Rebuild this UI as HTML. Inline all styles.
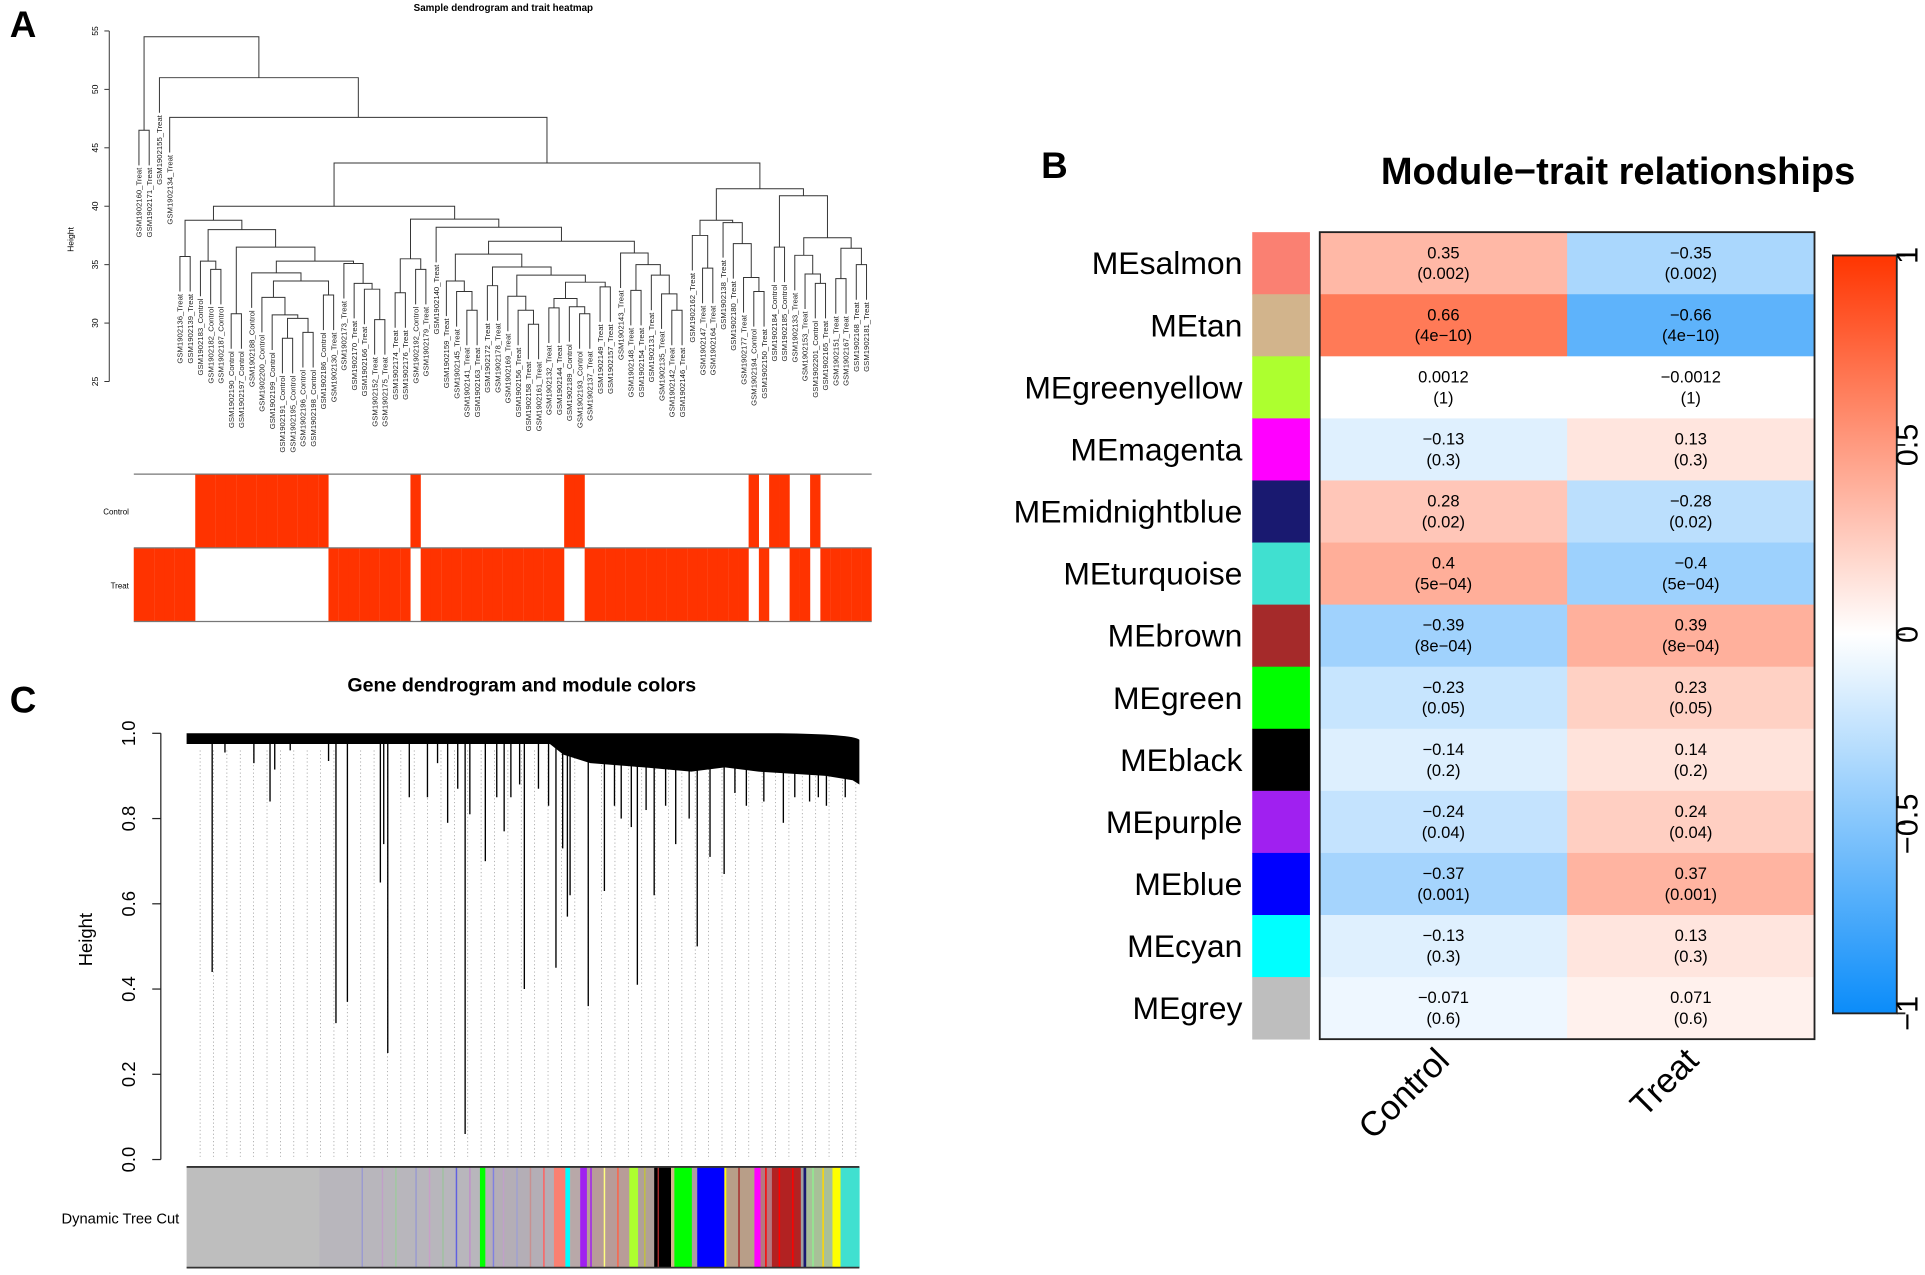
<!DOCTYPE html>
<html><head><meta charset="utf-8"><title>WGCNA figure</title>
<style>html,body{margin:0;padding:0;background:#fff;}svg{display:block;}text{font-family:"Liberation Sans",Arial,sans-serif;}</style>
</head><body>
<svg id="fig" xmlns="http://www.w3.org/2000/svg" width="1925" height="1275" viewBox="0 0 1568 1038" preserveAspectRatio="none">
<rect x="0" y="0" width="1568" height="1038" fill="#fff"/>
<text x="8" y="30" font-size="30" font-weight="bold">A</text>
<text x="410" y="9" font-size="8" font-weight="bold" text-anchor="middle">Sample dendrogram and trait heatmap</text>
<g id="panelA"></g>
<text x="848" y="145" font-size="30" font-weight="bold">B</text>
<text x="1318" y="150" font-size="31" font-weight="bold" text-anchor="middle">Module−trait relationships</text>
<g id="panelB"></g>
<text x="8" y="580" font-size="30" font-weight="bold">C</text>
<text x="425" y="563" font-size="16" font-weight="bold" text-anchor="middle">Gene dendrogram and module colors</text>
<g id="panelC"></g>
</svg>
<script>
// ---------- Panel B data ----------
const modules = ["MEsalmon","MEtan","MEgreenyellow","MEmagenta","MEmidnightblue","MEturquoise","MEbrown","MEgreen","MEblack","MEpurple","MEblue","MEcyan","MEgrey"];
const moduleColors = ["#FA8072","#D2B48C","#ADFF2F","#FF00FF","#191970","#40E0D0","#A52A2A","#00FF00","#000000","#A020F0","#0000FF","#00FFFF","#BEBEBE"];
const traits = ["Control","Treat"];
const controlCor = [0.35,0.66,0.0012,-0.13,0.28,0.4,-0.39,-0.23,-0.14,-0.24,-0.37,-0.13,-0.071];
const treatCor = [-0.35,-0.66,-0.0012,0.13,-0.28,-0.4,0.39,0.23,0.14,0.24,0.37,0.13,0.071];
const pValues = ["0.002","4e-10","1","0.3","0.02","5e-04","8e-04","0.05","0.2","0.04","0.001","0.3","0.6"];
const colorbarTicks = [1,0.5,0,-0.5,-1];
const colorbarTickLabels = ["1","0.5","0","−0.5","−1"];

// ---------- Panel A data ----------
const controlSamples = [183,182,187,190,197,188,200,199,191,195,196,198,186,192,189,193,194,184,185,201];
const heightTicksA = [25,30,35,40,45,50,55];
function N(h,a,b){return {h:h,a:a,b:b};}
const sampleTree =
 N(54.5, N(46.5,160,171), N(51,155, N(47.6,134, N(43.7,
  N(40,
   N(38.8, N(35.7,136,139), N(38, N(35.3,183,N(34.6,182,187)), N(36.5, N(30.8,190,197), N(35.3, N(34.3,188, N(33.6, N(32.2,200, N(30.7,199, N(30.4, N(28.7,191,195), N(29.2,196,198)))), N(32.4,186,130))), N(35.1,173, N(33.4,170, N(32.9,166, N(30.3,152,175)))))))),
   N(38.9, N(35.5, N(32.6,174,176), N(34.6,192,179)),
     N(38.2,140, N(37, N(35.9, N(33.6,159, N(32.7,145, N(31.1,141,163))), N(34.8, N(33.2,172,178), N(34.1, N(32.3,169, N(31.1,156, N(29.9,158,161))), N(33.5, N(32.1, N(31.3,132,144), N(31.4,189, N(30.8,193,137))), N(33.1,149,157))))),
       N(36,143, N(35, N(32.8,148,154), N(34.1,131, N(32.5,135, N(31.1,142,146)))))))))
  ,
  N(41.5, N(38.8, N(37.5,162, N(34.7,147,164)), N(38.6,138, N(36.8,180, N(33.9,177, N(32.7,194,150))))),
   N(40.9, N(36.5,184,185), N(37.3, N(35.8,133, N(34.2,153, N(33.4,201,165))), N(36.4, N(33.8,151,167), N(35,168,181)))))
 ))));

// ---------- Panel C data ----------
const heightTicksC = [0,0.2,0.4,0.6,0.8,1.0];
const dropPos = [.038,.057,.10,.124,.131,.154,.211,.222,.239,.288,.293,.299,.331,.358,.373,.388,.403,.414,.421,.444,.461,.472,.482,.495,.502,.523,.538,.549,.559,.566,.570,.597,.621,.636,.646,.661,.670,.683,.695,.712,.727,.747,.759,.778,.799,.815,.832,.858,.887,.904,.926,.939,.951,.979];
const dropHeight = [.44,.955,.93,.84,.915,.96,.935,.32,.37,.65,.74,.25,.85,.85,.93,.79,.87,.06,.81,.70,.85,.77,.85,.88,.40,.87,.83,.45,.73,.57,.62,.36,.63,.83,.80,.78,.41,.82,.62,.83,.74,.80,.50,.71,.67,.86,.83,.84,.79,.85,.84,.85,.83,.85];
const fringePos = [0,.54,.56,.60,.68,.75,.80,.85,.90,.95,.99,1];
const fringeHeight = [.975,.975,.95,.93,.92,.91,.92,.91,.905,.90,.89,.88];
const segStart = [0,.197,.436,.444,.546,.563,.570,.585,.595,.658,.671,.695,.72,.725,.751,.759,.799,.844,.853,.870,.913,.917,.921,.960,.972];
const segEnd   = [.197,.436,.444,.546,.563,.570,.585,.595,.658,.671,.695,.72,.725,.751,.759,.799,.844,.853,.870,.913,.917,.921,.960,.972,1];
const segColor = ["#BEBEBE","#B8B6BC","#00FF00","#B4AEB6","#FA8072","#00FFFF","#B8A8A8","#A020F0","#B89C98","#ADFF2F","#B0A098","#000000","#D2B48C","#00FF00","#B09CA0","#0000FF","#B89E88","#FF00FF","#B47880","#B22222","#A0A0A0","#191970","#A8C098","#FFFF00","#40E0D0"];
const stripePos = [.26,.29,.31,.34,.36,.38,.40,.42,.455,.47,.49,.51,.53,.60,.62,.64,.68,.70,.80,.82,.86,.88,.90,.93,.945];
const stripeColor = ["#9b9bd0","#c0a0c8","#a0c8a0","#9b9bd0","#c8a0c8","#a0c0a0","#6060e0","#c090c8","#8080e0","#c0a0c8","#a0a0d0","#c89090","#FF6060","#A020F0","#FFFF80","#FF6347","#c0c040","#A52A2A","#FFFF00","#A52A2A","#FF0000","#FF0000","#FF0000","#90EE90","#FFD700"];

const NS="http://www.w3.org/2000/svg";
function el(tag, attrs, parent){const e=document.createElementNS(NS,tag);for(const k in attrs)e.setAttribute(k,attrs[k]);parent.appendChild(e);return e;}

// ================= Panel A =================
(function(){
 const g=document.getElementById('panelA');
 const yA=h=>25.2+(55-h)*9.513;
 const hx0=109, hx1=710;
 // leaf order
 const leaves=[];(function walk(n){if(typeof n==='number'){leaves.push(n);return;}walk(n.a);walk(n.b);})(sampleTree);
 const w=(hx1-hx0)/leaves.length;
 const leafX=i=>hx0+(i+0.5)*w;
 let idx=0;
 const hang=3;
 function layout(n,parentH){
  if(typeof n==='number'){const i=idx++;return {x:leafX(i),top:parentH-hang,id:n};}
  const A=layout(n.a,n.h),B=layout(n.b,n.h);
  const x=(A.x+B.x)/2;
  const ln=el('path',{d:`M${A.x},${yA(A.top)}V${yA(n.h)}H${B.x}V${yA(B.top)}`,fill:'none',stroke:'#333','stroke-width':0.8},g);
  
  
  return {x:x,top:n.h};
 }
 const leafInfo=[];
 (function collect(n,parentH){
  if(typeof n==='number'){leafInfo.push({id:n,top:parentH-hang});return;}
  collect(n.a,n.h);collect(n.b,n.h);
 })(sampleTree,0);
 layout(sampleTree,56);
 leafInfo.forEach((L,i)=>{
  const isC=controlSamples.includes(L.id);
  const x=leafX(i), y=yA(L.top)+2;
  const t=el('text',{x:0,y:0,'font-size':6.3,'text-anchor':'end',transform:`translate(${x+2.2},${y}) rotate(-90)`,fill:'#222'},g);
  t.textContent='GSM1902'+L.id+'_'+(isC?'Control':'Treat');
  
  
 });
 // axis
 const ax=el('line',{x1:89,x2:89,y1:yA(55),y2:yA(25),stroke:'#333','stroke-width':0.8},g);
 
 
 heightTicksA.forEach(v=>{
  el('line',{x1:85,x2:89,y1:yA(v),y2:yA(v),stroke:'#333','stroke-width':0.8},g);
  const t=el('text',{x:0,y:0,'font-size':7,'text-anchor':'middle',transform:`translate(80,${yA(v)}) rotate(-90)`},g);
  t.textContent=String(v);
  
  
 });
 const yl=el('text',{x:0,y:0,'font-size':7,'text-anchor':'middle',transform:'translate(60,195) rotate(-90)'},g);
 yl.textContent='Height';
 
 
 // trait heatmap
 const rows=[{name:'Control',y:386},{name:'Treat',y:446}];
 rows.forEach((r,ri)=>{
  leafInfo.forEach((L,i)=>{
   const isC=controlSamples.includes(L.id);
   const red=(ri===0)?isC:!isC;
   if(red){
    const c=el('rect',{x:hx0+i*w-0.05,y:r.y,width:w+0.1,height:60,fill:'#FF3300'},g);
    
    
   }
  });
  const t=el('text',{x:105,y:r.y+33,'font-size':6.5,'text-anchor':'end'},g);
  t.textContent=r.name;
  
  
 });
 [386,446,506].forEach(y=>el('line',{x1:hx0,x2:hx1,y1:y,y2:y,stroke:'#777','stroke-width':1},g));
})();

// ================= Panel B =================
(function(){
 const g=document.getElementById('panelB');
 const top=189, rowH=(846-189)/modules.length;
 const cx0=1075, cw=(1478-1075)/2;
 function col(v){
  const t=Math.min(1,Math.abs(v));
  if(v>=0){return `rgb(255,${Math.round(255-(255-53)*t)},${Math.round(255-255*t)})`;}
  return `rgb(${Math.round(255-(255-11)*t)},${Math.round(255-(255-140)*t)},${Math.round(255-(255-249)*t)})`;
 }
 modules.forEach((m,i)=>{
  const y=top+i*rowH;
  const sw=el('rect',{x:1020,y:y,width:47,height:rowH+0.3,fill:moduleColors[i]},g);
  
  
  const lab=el('text',{x:1012,y:y+rowH/2+9,'font-size':26,'text-anchor':'end'},g);
  lab.textContent=m;
  
  
  [controlCor[i],treatCor[i]].forEach((v,j)=>{
   const x=cx0+j*cw;
   const c=el('rect',{x:x,y:y,width:cw+0.3,height:rowH+0.3,fill:col(v)},g);
   
   
   const t1=el('text',{x:x+cw/2,y:y+rowH/2-4,'font-size':13.5,'text-anchor':'middle'},g);
   t1.textContent=String(v).replace('-','−');
   
   
   const t2=el('text',{x:x+cw/2,y:y+rowH/2+13,'font-size':13.5,'text-anchor':'middle'},g);
   t2.textContent='('+pValues[i].replace('-','−')+')';
   
   
  });
 });
 const fr=el('rect',{x:cx0,y:top,width:2*cw,height:846-top,fill:'none',stroke:'#222','stroke-width':1.5},g);
 
 
 traits.forEach((tr,j)=>{
  const ex=[1182,1385][j];
  const t=el('text',{x:0,y:0,'font-size':28,'text-anchor':'end',transform:`translate(${ex},865) rotate(-45)`},g);
  t.textContent=tr;
  
  
 });
 // colorbar
 const defs=el('defs',{},g);
 const lg=el('linearGradient',{id:'cbg',x1:0,y1:0,x2:0,y2:1},defs);
 for(let k=0;k<=20;k++){const v=1-k/10;el('stop',{offset:(k/20),'stop-color':col(v)},lg);}
 const cy0=208, cy1=825, cyv=v=>cy0+(1-v)/2*(cy1-cy0);
 const cb=el('rect',{x:1493,y:cy0,width:52,height:cy1-cy0,fill:'url(#cbg)',stroke:'#222','stroke-width':1.5},g);
 
 
 colorbarTicks.forEach((v,k)=>{
  el('line',{x1:1545,x2:1552,y1:cyv(v),y2:cyv(v),stroke:'#222','stroke-width':1.5},g);
  const t=el('text',{x:0,y:0,'font-size':25,'text-anchor':'middle',transform:`translate(1562,${cyv(v)}) rotate(-90)`},g);
  t.textContent=colorbarTickLabels[k];
  
  
 });
})();

// ================= Panel C =================
(function(){
 const g=document.getElementById('panelC');
 const x0=152,x1=700, yC=h=>944-h*347;
 const xf=f=>x0+f*(x1-x0);
 // dotted guide lines
 for(let x=x0+11;x<x1;x+=10.9){el('line',{x1:x,x2:x,y1:yC(0.96),y2:944,stroke:'#9a9a9a','stroke-width':0.6,'stroke-dasharray':'1,2'},g);}
 // fringe mass
 let d=`M${xf(0)},${yC(1)} L${xf(0.88)},${yC(1)} Q${xf(0.99)},${yC(0.998)} ${xf(1)},${yC(0.985)}`;
 for(let k=fringePos.length-1;k>=0;k--){d+=` L${xf(fringePos[k])},${yC(fringeHeight[k])}`;}
 d+='Z';
 const fm=el('path',{d:d,fill:'#000'},g);
 
 
 dropPos.forEach((f,i)=>{
  const l=el('line',{x1:xf(f),x2:xf(f),y1:yC(0.975),y2:yC(dropHeight[i]),stroke:'#000','stroke-width':1.1},g);
  
  
 });
 // axis
 el('line',{x1:131,x2:131,y1:yC(1),y2:yC(0),stroke:'#222','stroke-width':1},g);
 heightTicksC.forEach(v=>{
  el('line',{x1:124,x2:131,y1:yC(v),y2:yC(v),stroke:'#222','stroke-width':1},g);
  const t=el('text',{x:0,y:0,'font-size':15,'text-anchor':'middle',transform:`translate(110,${yC(v)}) rotate(-90)`},g);
  t.textContent=v.toFixed(1);
  
  
 });
 const yl=el('text',{x:0,y:0,'font-size':15,'text-anchor':'middle',transform:'translate(75,765) rotate(-90)'},g);
 yl.textContent='Height';
 
 
 // module colour bar
 segStart.forEach((s,i)=>{
  const r=el('rect',{x:xf(s),y:950,width:xf(segEnd[i])-xf(s)+0.2,height:82,fill:segColor[i]},g);
  
  
 });
 stripePos.forEach((f,i)=>{
  const r=el('rect',{x:xf(f),y:950,width:1.2,height:82,fill:stripeColor[i]},g);
  
  
 });
 el('line',{x1:x0,x2:x1,y1:950,y2:950,stroke:'#333','stroke-width':1.5},g);
 el('line',{x1:x0,x2:x1,y1:1032,y2:1032,stroke:'#333','stroke-width':1.5},g);
 const lab=el('text',{x:146,y:996,'font-size':12,'text-anchor':'end'},g);
 lab.textContent='Dynamic Tree Cut';
 
 
})();
</script>
</body></html>
